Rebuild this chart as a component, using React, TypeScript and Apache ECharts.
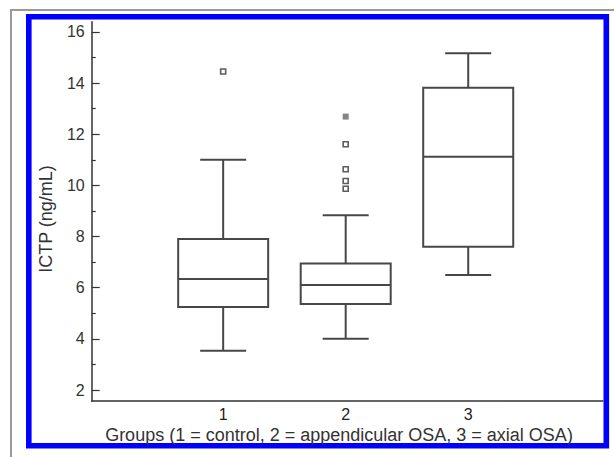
import React, { useEffect, useRef } from "react";
import * as echarts from "echarts";

const groups = [1, 2, 3];
const whiskerLow = [3.53, 4.0, 6.5];
const quart1 = [5.25, 5.36, 7.6];
const medians = [6.34, 6.11, 11.12];
const quart3 = [7.9, 6.95, 13.82];
const whiskerHigh = [11.0, 8.83, 15.17];

const openOutliers: [number, number][] = [
  [1, 14.45],
  [2, 11.61],
  [2, 10.63],
  [2, 10.17],
  [2, 9.87],
];
const filledOutliers: [number, number][] = [[2, 12.69]];

const yMajor = [2, 4, 6, 8, 10, 12, 14, 16];
const yMinor = [3, 5, 7, 9, 11, 13, 15];
const xTicks = [1, 2, 3];

const FONT = "'Liberation Sans', Arial, sans-serif";

export default function App() {
  const ref = useRef<HTMLDivElement>(null);
  useEffect(() => {
    if (!ref.current) return;
    const chart = echarts.init(ref.current, undefined, { renderer: "svg" });
    const boxData = groups.map((g, i) => [
      g,
      whiskerLow[i],
      quart1[i],
      medians[i],
      quart3[i],
      whiskerHigh[i],
    ]);
    const lineStyle = { stroke: "#474747", lineWidth: 2, fill: "none" };
    chart.setOption({
      animation: false,
      backgroundColor: "#fff",
      grid: { left: 91.7, right: 11, top: 21.7, bottom: 56 },
      xAxis: {
        type: "value",
        min: -0.073,
        max: 4.1,
        axisLine: { show: true, onZero: false, lineStyle: { color: "#333", width: 1.5 } },
        axisTick: { show: false },
        splitLine: { show: false },
        axisLabel: {
          customValues: xTicks,
          color: "#222",
          fontSize: 16,
          fontFamily: FONT,
          margin: 5,
        },
      },
      yAxis: [
        {
          type: "value",
          min: 1.57,
          max: 16.4,
          axisLine: { show: true, onZero: false, lineStyle: { color: "#333", width: 1.5 } },
          axisTick: {
            show: true,
            inside: true,
            length: 8,
            customValues: yMajor,
            lineStyle: { color: "#333", width: 1.2 },
          },
          splitLine: { show: false },
          axisLabel: {
            customValues: yMajor,
            color: "#333",
            fontSize: 16,
            fontFamily: FONT,
            margin: 7,
          },
        },
        {
          type: "value",
          position: "left",
          offset: 0,
          min: 1.57,
          max: 16.4,
          axisLine: { show: false, onZero: false },
          axisTick: {
            show: true,
            inside: true,
            length: 4,
            customValues: yMinor,
            lineStyle: { color: "#333", width: 1.2 },
          },
          splitLine: { show: false },
          axisLabel: { show: false },
        },
      ],
      series: [
        {
          type: "custom",
          xAxisIndex: 0,
          yAxisIndex: 0,
          data: boxData,
          encode: { x: 0, y: [1, 2, 3, 4, 5] },
          renderItem: (params: any, api: any) => {
            const x = api.value(0);
            const lo = api.coord([x, api.value(1)]);
            const q1 = api.coord([x, api.value(2)]);
            const md = api.coord([x, api.value(3)]);
            const q3 = api.coord([x, api.value(4)]);
            const hi = api.coord([x, api.value(5)]);
            const cx = lo[0];
            const hw = 45;
            const cw = 23;
            return {
              type: "group",
              children: [
                {
                  type: "rect",
                  shape: { x: cx - hw, y: q3[1], width: 2 * hw, height: q1[1] - q3[1] },
                  style: lineStyle,
                },
                { type: "line", shape: { x1: cx - hw, y1: md[1], x2: cx + hw, y2: md[1] }, style: lineStyle },
                { type: "line", shape: { x1: cx, y1: q1[1], x2: cx, y2: lo[1] }, style: lineStyle },
                { type: "line", shape: { x1: cx, y1: q3[1], x2: cx, y2: hi[1] }, style: lineStyle },
                { type: "line", shape: { x1: cx - cw, y1: lo[1], x2: cx + cw, y2: lo[1] }, style: lineStyle },
                { type: "line", shape: { x1: cx - cw, y1: hi[1], x2: cx + cw, y2: hi[1] }, style: lineStyle },
              ],
            };
          },
        },
        {
          type: "scatter",
          data: openOutliers,
          symbol: "rect",
          symbolSize: 5,
          itemStyle: { color: "#fff", borderColor: "#333", borderWidth: 1.6 },
        },
        {
          type: "scatter",
          data: filledOutliers,
          symbol: "rect",
          symbolSize: 6,
          itemStyle: { color: "#666" },
        },
      ],
      graphic: [
        {
          type: "line",
          shape: { x1: 10, y1: 10, x2: 614, y2: 10 },
          style: { stroke: "#9a9a9a", lineWidth: 2 },
          silent: true,
        },
        {
          type: "line",
          shape: { x1: 11, y1: 10, x2: 11, y2: 457 },
          style: { stroke: "#9a9a9a", lineWidth: 2 },
          silent: true,
        },
        {
          type: "rect",
          shape: { x: 28.8, y: 16.7, width: 577.5, height: 429 },
          style: { stroke: "#0000ff", lineWidth: 5.6, fill: "none" },
          silent: true,
        },
        {
          type: "text",
          x: 46,
          y: 219,
          rotation: Math.PI / 2,
          style: {
            text: "ICTP (ng/mL)",
            fill: "#333",
            font: `18px ${FONT}`,
            align: "center",
            verticalAlign: "middle",
          },
          silent: true,
        },
        {
          type: "text",
          x: 339,
          y: 435,
          style: {
            text: "Groups (1 = control, 2 = appendicular OSA, 3 = axial OSA)",
            fill: "#333",
            font: `18px ${FONT}`,
            align: "center",
            verticalAlign: "middle",
          },
          silent: true,
        },
      ],
    });
    return () => chart.dispose();
  }, []);
  return (
    <div
      ref={ref}
      style={{ position: "fixed", left: 0, top: 0, width: 614, height: 457 }}
    />
  );
}
